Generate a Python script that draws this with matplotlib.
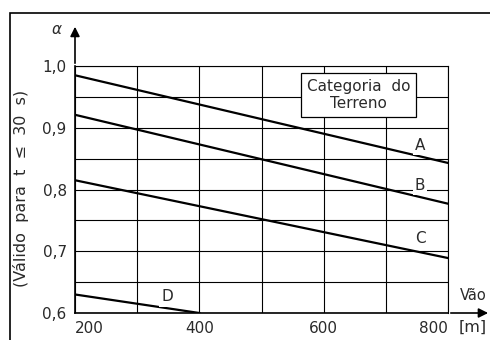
import numpy as np
import matplotlib
matplotlib.use("Agg")
import matplotlib.pyplot as plt
from matplotlib.patches import Rectangle

# Data
vao = [200, 800]
cat_a = [0.985, 0.843]
cat_b = [0.921, 0.777]
cat_c = [0.815, 0.689]
vao_d = [200, 400]
cat_d = [0.630, 0.600]

labels = ["A", "B", "C", "D"]
label_x = [755, 755, 755, 348]
label_y = [0.872, 0.807, 0.720, 0.626]

xticks = [200, 400, 600, 800]
xtick_labels = ["200", "400", "600", "800"]
yticks = [0.6, 0.7, 0.8, 0.9, 1.0]
ytick_labels = ["0,6", "0,7", "0,8", "0,9", "1,0"]

plt.rcParams['font.family'] = ['DejaVu Sans']
txt_col = '#2a2a2a'

fig = plt.figure(figsize=(4.9, 3.4), dpi=100)
ax = fig.add_axes([75/490, 1 - 313/340, (448-75)/490, (313-66)/340])

# grid
for gx in np.arange(200, 801, 100):
    ax.axvline(gx, color='black', lw=0.8, zorder=1)
for gy in np.arange(0.6, 1.001, 0.05):
    ax.axhline(gy, color='black', lw=0.8, zorder=1)

# curves
ax.plot(vao, cat_a, color='black', lw=1.6, zorder=3)
ax.plot(vao, cat_b, color='black', lw=1.6, zorder=3)
ax.plot(vao, cat_c, color='black', lw=1.6, zorder=3)
ax.plot(vao_d, cat_d, color='black', lw=1.6, zorder=3)

for lab, lx, ly in zip(labels, label_x, label_y):
    ax.text(lx, ly, lab, ha='center', va='center', fontsize=11, color=txt_col,
            bbox=dict(facecolor='white', edgecolor='none', pad=1.5), zorder=4)

ax.text(656, 0.953, "Categoria  do\nTerreno", ha='center', va='center',
        fontsize=11, linespacing=1.15, zorder=5, color=txt_col,
        bbox=dict(boxstyle='square,pad=0.4', facecolor='white',
                  edgecolor='black', lw=0.9))

ax.set_xlim(200, 800)
ax.set_ylim(0.6, 1.0)
ax.set_xticks(xticks)
ax.set_xticklabels(xtick_labels)
ax.set_yticks(yticks)
ax.set_yticklabels(ytick_labels)
ax.tick_params(length=0, labelsize=11, pad=6, labelcolor=txt_col)
tl = ax.get_xticklabels()
tl[0].set_ha('left')
tl[-1].set_ha('right')
for s in ax.spines.values():
    s.set_linewidth(0.8)
ax.spines['left'].set_linewidth(1.2)
ax.spines['bottom'].set_linewidth(1.2)

# axis arrows
ax.annotate("", xy=(0, 1.17), xytext=(0, 1.0), xycoords='axes fraction',
            arrowprops=dict(arrowstyle='-|>', color='black', lw=1.2,
                            mutation_scale=14))
ax.annotate("", xy=(1.115, 0), xytext=(1.0, 0), xycoords='axes fraction',
            arrowprops=dict(arrowstyle='-|>', color='black', lw=1.2,
                            mutation_scale=14))

fig.text(57/490, 1 - 30/340, "α", ha='center', va='center', fontsize=11,
         style='italic', color=txt_col)
fig.text(460/490, 1 - 296/340, "Vão", ha='left', va='center', fontsize=10.5,
         color=txt_col)
fig.text(459/490, 1 - 327/340, "[m]", ha='left', va='center', fontsize=11.5,
         color=txt_col)
fig.text(21/490, 1 - 188/340, "(Válido  para  t  ≤  30  s)", ha='center',
         va='center', rotation=90, fontsize=11.5, color=txt_col)

# outer frame
fig.patches.append(Rectangle((10/490, -0.1), 1.2, 1.1 - 13/340, fill=False,
                             edgecolor='black', lw=1.2,
                             transform=fig.transFigure, figure=fig))

fig.savefig("out.png", dpi=100)
